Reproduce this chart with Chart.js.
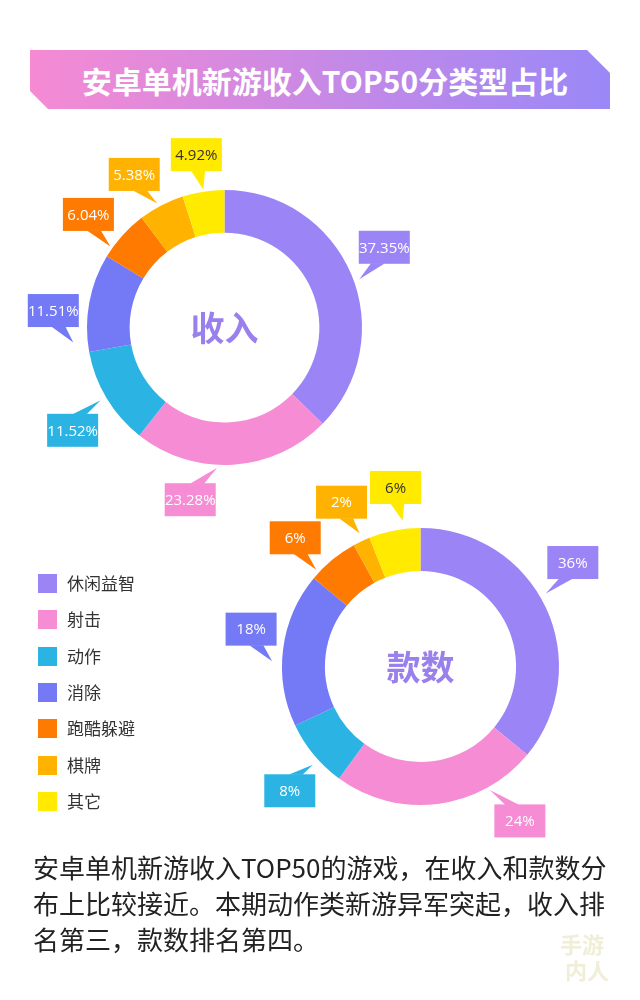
<!DOCTYPE html>
<html>
<head>
<meta charset="utf-8">
<script src="https://cdn.jsdelivr.net/npm/chart.js@4.4.0/dist/chart.umd.min.js"></script>
<style>
  body { margin: 0; background: #fff; }
  #page { position: relative; width: 640px; height: 1000px; overflow: hidden; background: #fff;
    font-family: "Noto Sans CJK SC", "Noto Sans", sans-serif; }
  #banner { position: absolute; left: 30px; top: 50px; width: 580px; height: 59px;
    background: linear-gradient(to right, #f68ad3, #9a88f7);
    clip-path: polygon(0 0, 557px 0, 580px 23px, 580px 59px, 18px 59px, 0 41px); }
  #banner span { position: absolute; left: 0; right: 0; top: 10px; text-align: center; color: #fff;
    font-size: 30px; font-weight: bold; line-height: 40px; padding-left: 10px; }
  canvas { position: absolute; left: 0; top: 0; }
  #legend { position: absolute; left: 38px; top: 574px; }
  .item { position: absolute; left: 0; height: 19px; white-space: nowrap; }
  .item i { position: absolute; left: 0; top: 0; width: 19px; height: 19px; }
  .item b { position: absolute; left: 29px; top: -3px; font-weight: normal; font-size: 17px; color: #333; line-height: 24px; }
  #note { position: absolute; left: 33px; top: 849px; font-size: 26px; line-height: 36px; color: #222; white-space: nowrap; }
  #mark { position: absolute; left: 560px; top: 930px; color: #f0eed6; font-size: 22px; line-height: 26px; font-weight: bold; }
</style>
</head>
<body>
<div id="page">
  <div id="banner"><span>安卓单机新游收入TOP50分类型占比</span></div>
  <canvas id="incomeChart" width="640" height="1000"></canvas>
  <canvas id="countChart" width="640" height="1000"></canvas>
  <div id="legend"></div>
  <div id="note">安卓单机新游收入TOP50的游戏，在收入和款数分<br>布上比较接近。本期动作类新游异军突起，收入排<br>名第三，款数排名第四。</div>
  <div id="mark">手游<br>&nbsp;内人</div>
</div>
<script>
// categories and values
const categories = ['休闲益智', '射击', '动作', '消除', '跑酷躲避', '棋牌', '其它'];
const incomeShare = [37.35, 23.28, 11.52, 11.51, 6.04, 5.38, 4.92];
const countShare = [36, 24, 8, 18, 6, 2, 6];
const incomeLabels = ['37.35%', '23.28%', '11.52%', '11.51%', '6.04%', '5.38%', '4.92%'];
const countLabels = ['36%', '24%', '8%', '18%', '6%', '2%', '6%'];

const colors = ['#9a84f6', '#f58cd4', '#2bb4e3', '#7479f5', '#ff7a00', '#ffb300', '#ffea00'];
const labelTextColors = ['#fff', '#fff', '#fff', '#fff', '#fff', '#fff', '#333'];

// callout layout: box centre offset and pointer tip offset from the arc's outer mid point
const incomeCallouts = [
  [33, -27, 8, 5], [-43, 35, -16, 3], [-34, 32, -6, 2], [-36, 8, -16, 40],
  [-34, -21, -12, 11], [-27, -31, -4, -2], [-7, -37, 0, -2]
];
const countCallouts = [
  [27, -45, 0, -14], [82, 17, 52, -14], [-24, 36, -1, 10], [-32, -20, -11, 12],
  [-37, -22, -16, 10], [-20, -39, -2, -8], [1, -43, 8, -10]
];

// legend
const legendEl = document.getElementById('legend');
categories.forEach((c, i) => {
  legendEl.insertAdjacentHTML('beforeend',
    `<div class="item" style="top:${Math.round(i * 36.3)}px"><i style="background:${colors[i]}"></i><b>${c}</b></div>`);
});

const calloutPlugin = {
  id: 'callouts',
  afterDatasetsDraw(chart, args, opts) {
    const ctx = chart.ctx;
    const meta = chart.getDatasetMeta(0);
    ctx.save();
    meta.data.forEach((arc, i) => {
      const p = arc.getProps(['x', 'y', 'startAngle', 'endAngle', 'outerRadius'], true);
      const mid = (p.startAngle + p.endAngle) / 2;
      const px = p.x + Math.cos(mid) * p.outerRadius;
      const py = p.y + Math.sin(mid) * p.outerRadius;
      const [bdx, bdy, tdx, tdy] = opts.layout[i];
      const bx = px + bdx, by = py + bdy;
      const tx = px + tdx, ty = py + tdy;
      const w = 51, h = 33;
      const left = bx - w / 2, top = by - h / 2;
      ctx.fillStyle = colors[i];
      ctx.fillRect(left, top, w, h);
      // pointer
      let bc = bx + (tx - bx) * 0.25;
      bc = Math.max(left + 7, Math.min(left + w - 7, bc));
      const edge = ty > by ? top + h - 0.5 : top + 0.5;
      ctx.beginPath();
      ctx.moveTo(bc - 7, edge);
      ctx.lineTo(bc + 7, edge);
      ctx.lineTo(tx, ty);
      ctx.closePath();
      ctx.fill();
      ctx.fillStyle = labelTextColors[i];
      ctx.font = '15px "Open Sans", sans-serif';
      ctx.textAlign = 'center';
      ctx.textBaseline = 'middle';
      ctx.fillText(opts.labels[i], bx, by + 1);
    });
    // centre title
    const a = meta.data[0];
    ctx.fillStyle = '#9a80ec';
    ctx.font = 'bold 34px "Noto Sans CJK SC", sans-serif';
    ctx.textAlign = 'center';
    ctx.textBaseline = 'middle';
    ctx.fillText(opts.center, a.x, a.y + 1);
    ctx.restore();
  }
};

function makeDonut(id, values, labels, layout, center, padding) {
  return new Chart(document.getElementById(id), {
    type: 'doughnut',
    data: {
      labels: categories,
      datasets: [{ data: values, backgroundColor: colors, borderWidth: 0 }]
    },
    options: {
      responsive: false,
      animation: false,
      cutout: '69%',
      layout: { padding: padding },
      plugins: {
        legend: { display: false },
        tooltip: { enabled: false },
        callouts: { labels: labels, layout: layout, center: center }
      }
    },
    plugins: [calloutPlugin]
  });
}

makeDonut('incomeChart', incomeShare, incomeLabels, incomeCallouts, '收入',
  { left: 87, top: 190, right: 278, bottom: 535 });
makeDonut('countChart', countShare, countLabels, countCallouts, '款数',
  { left: 282, top: 528, right: 81, bottom: 195 });
</script>
</body>
</html>
